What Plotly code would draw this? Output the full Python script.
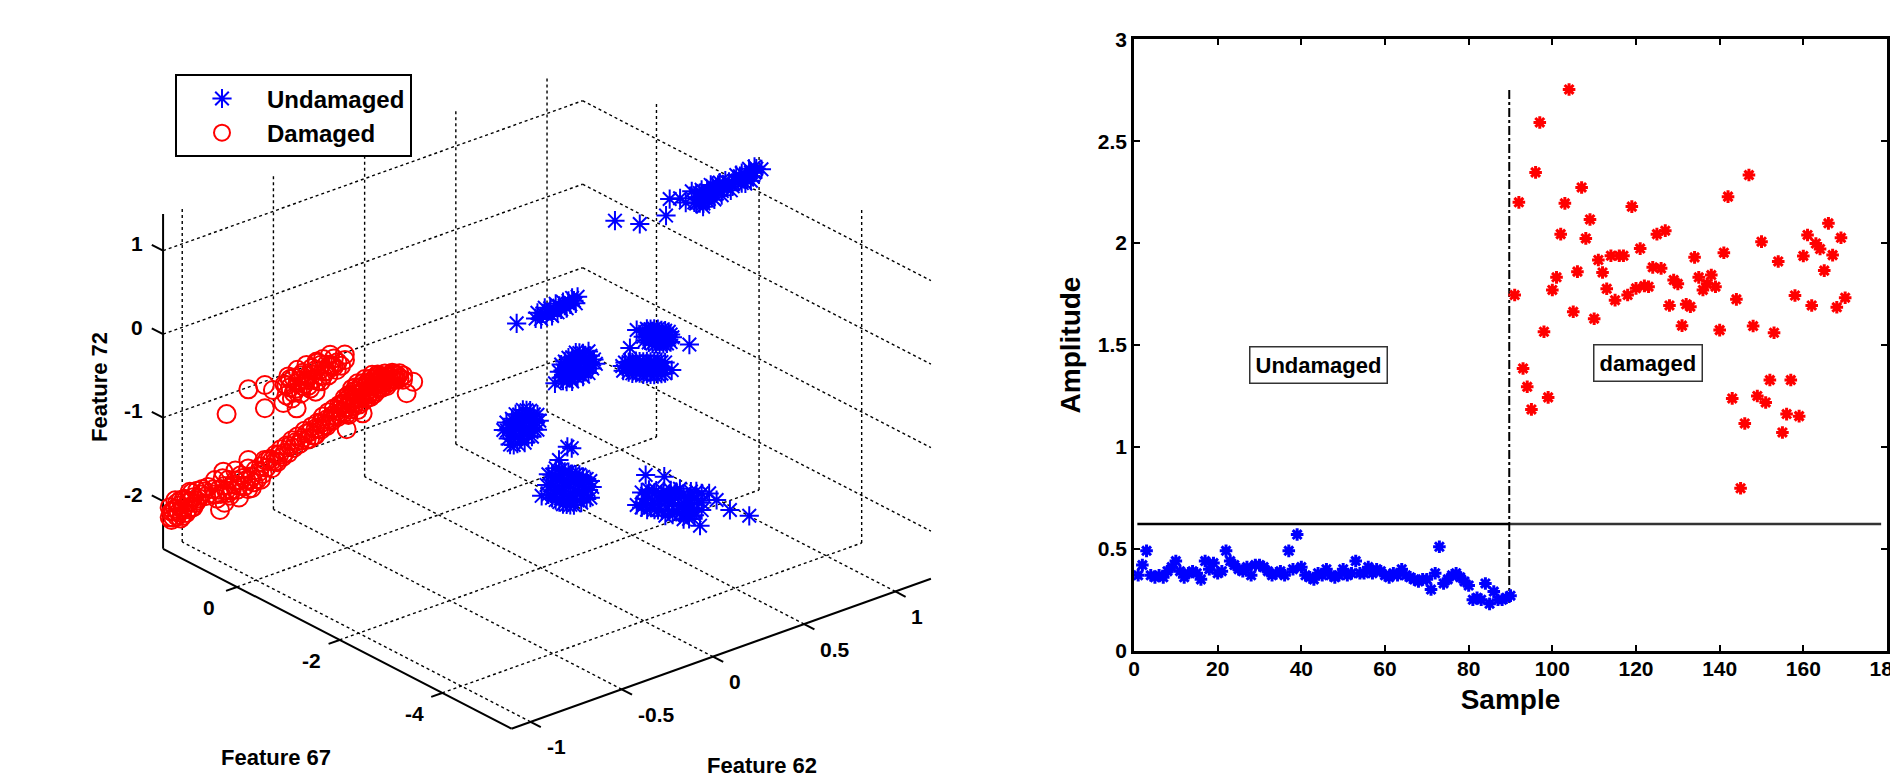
import plotly.graph_objects as go

W, H = 1890, 784
FONT = "Liberation Sans"

# ---------- right panel data ----------
sample_undamaged = list(range(1, 91))
amp_undamaged = [.37,.42,.49,.37,.36,.37,.36,.39,.41,.44,.39,.36,.38,.39,.38,.35,.44,.40,.43,.38,
                 .39,.49,.44,.42,.40,.39,.41,.37,.42,.42,.41,.39,.37,.38,.39,.37,.49,.40,.57,.41,
                 .37,.36,.35,.38,.37,.40,.37,.36,.37,.40,.37,.38,.44,.38,.38,.41,.38,.40,.39,.37,
                 .36,.38,.37,.40,.37,.36,.35,.34,.35,.35,.30,.38,.51,.33,.35,.37,.38,.36,.34,.32,
                 .25,.26,.25,.33,.23,.29,.25,.25,.26,.27]
sample_damaged = list(range(91, 171))
amp_damaged = [1.745,2.20,1.385,1.295,1.184,2.347,2.592,1.565,1.243,1.77,1.832,2.044,2.195,2.754,1.663,1.86,
               2.273,2.023,2.116,1.629,1.917,1.856,1.776,1.938,1.72,1.938,1.938,1.745,2.179,1.778,1.973,1.79,
               1.786,1.881,2.044,1.876,2.061,1.694,1.819,1.80,1.595,1.70,1.688,1.93,1.832,1.77,1.80,1.843,
               1.786,1.573,1.953,2.228,1.238,1.724,.797,1.115,2.334,1.593,1.25,2.007,1.218,1.328,1.56,1.91,
               1.071,1.161,1.328,1.743,1.151,1.937,2.04,1.694,1.998,1.971,1.865,2.097,1.941,1.685,2.026,1.732]
threshold = 0.622
divider_sample = 89.7

# ---------- left panel data: Feature 62, Feature 72 per cluster; Feature 67 per cluster ----------
strand_f62 = [.405,.541,.685,.705,.762,.793,.826,.888,1.208,.84,.85,.86,.87,.88,.89,.90,.91,.92,.93,.94,.95,.96,.97,.98,.99,1.00,1.02,1.03,1.05,1.06,1.08,1.09,1.10,1.12,1.13,1.15,1.16,1.17,1.18,
              .85,.87,.89,.91,.93,.95,.97,.99,1.01,1.04,1.07,1.10,1.12,1.15,1.17,1.14]
strand_f72 = [1.272,1.126,1.115,1.297,1.262,1.186,1.296,1.063,1.26,1.15,1.25,1.19,1.12,1.27,1.20,1.15,1.24,1.13,1.21,1.27,1.16,1.23,1.19,1.28,1.17,1.23,1.19,1.25,1.18,1.24,1.21,1.27,1.18,1.24,1.20,1.27,1.21,1.25,1.29,
              1.13,1.24,1.10,1.12,1.29,1.10,1.26,1.12,1.28,1.14,1.30,1.30,1.16,1.17,1.32,1.32]
a_f62 = [-.134,-.03,-.02,0,.01,.02,.03,.05,.06,.07,.08,.09,.10,.11,.12,.13,.14,.15,.16,.17,.18,.19,.20]
a_f72 = [.463,.44,.50,.41,.47,.53,.43,.50,.40,.46,.53,.42,.49,.44,.52,.47,.43,.51,.46,.53,.49,.45,.52]
b_f62 = [.10,.11,.11,.12,.12,.13,.13,.14,.14,.15,.15,.16,.16,.17,.17,.17,.18,.18,.19,.19,.20,.20,.21,.21,.22,.22,.23,.23,.24,.24,.25,.25,.26,.26,.27,.27,.28,.29,.30,.076]
b_f72 = [-.30,-.38,-.22,-.30,-.42,-.20,-.36,-.27,-.45,-.17,-.34,-.25,-.42,-.47,-.18,-.32,-.26,-.40,-.14,-.34,-.22,-.45,-.30,-.16,-.38,-.24,-.46,-.18,-.32,-.41,-.24,-.37,-.18,-.44,-.32,-.24,-.40,-.30,-.36,-.419]
c1_f62 = [.56,.57,.57,.58,.58,.59,.59,.60,.60,.61,.61,.62,.62,.63,.63,.64,.64,.65,.65,.66,.66,.67,.67,.68,.68,.69,.69,.70,.70,.71,.71,.72,.813,.524]
c1_f72 = [-.24,-.19,-.29,-.25,-.16,-.33,-.22,-.28,-.18,-.36,-.24,-.30,-.19,-.38,-.26,-.32,-.21,-.40,-.28,-.35,-.24,-.41,-.30,-.37,-.26,-.42,-.32,-.38,-.29,-.42,-.33,-.37,-.53,-.13]
c2_f62 = [.445,.45,.46,.47,.48,.48,.49,.50,.50,.51,.52,.52,.53,.54,.54,.55,.56,.56,.57,.58,.58,.59,.60,.60,.61,.62,.62,.63,.64,.64,.65,.66,.66,.67,.68,.68,.487,.716]
c2_f72 = [-.50,-.56,-.47,-.54,-.60,-.48,-.54,-.63,-.50,-.56,-.64,-.50,-.58,-.66,-.52,-.60,-.69,-.54,-.62,-.70,-.55,-.62,-.72,-.57,-.66,-.74,-.58,-.66,-.75,-.60,-.68,-.76,-.62,-.70,-.77,-.64,-.317,-.76]
d_f62 = [-.187,-.19,-.18,-.17,-.17,-.16,-.16,-.15,-.15,-.14,-.14,-.13,-.13,-.12,-.12,-.11,-.11,-.10,-.10,-.09,-.09,-.08,-.08,-.07,-.07,-.06,-.06,-.05,-.05,-.04,-.04,-.03,-.02,-.02,-.01,-.207]
d_f72 = [-.78,-.68,-.88,-.76,-.96,-.66,-.84,-.98,-.74,-.62,-.88,-.72,-.98,-.82,-.64,-.94,-.74,-.60,-.86,-1.0,-.72,-.82,-.62,-.94,-.74,-.88,-.64,-.78,-.96,-.70,-.88,-.80,-.72,-.90,-.80,-.757]
e_f62 = [.03,.04,.04,.05,.06,.06,.07,.08,.08,.08,.09,.10,.10,.11,.11,.12,.12,.13,.13,.14,.14,.15,.15,.16,.16,.17,.17,.18,.18,.19,.19,.20,.20,.21,.21,.22,.22,.23,.23,.24,.25,.25,.26,.27,.27,.28,.144,.168,.098,.003]
e_f72 = [-1.60,-1.72,-1.48,-1.62,-1.50,-1.78,-1.64,-1.44,-1.54,-1.82,-1.70,-1.58,-1.86,-1.48,-1.74,-1.62,-1.90,-1.52,-1.78,-1.66,-1.92,-1.54,-1.82,-1.70,-1.94,-1.58,-1.84,-1.68,-1.96,-1.60,-1.80,-1.92,-1.70,-1.62,-1.84,-1.96,-1.74,-1.66,-1.88,-1.78,-1.94,-1.70,-1.84,-1.74,-1.94,-1.82,-1.233,-1.267,-1.354,-1.709]
f_f62 = [.27,.27,.29,.30,.31,.33,.34,.35,.37,.38,.39,.41,.42,.43,.44,.45,.46,.47,.48,.49,.50,.51,.52,.53,.54,.55,.56,.243,.86,.754,.59,.292,.394,.681,.599,.599,.64,.53,
         .28,.30,.32,.34,.36,.38,.40,.40,.42,.44,.46,.48,.50,.52,.54,.56,.58,.60,.57,.50]
f_f72 = [-1.56,-1.74,-1.65,-1.79,-1.56,-1.70,-1.82,-1.60,-1.74,-1.86,-1.64,-1.76,-1.90,-1.66,-1.82,-1.72,-1.94,-1.78,-1.68,-1.88,-1.76,-1.98,-1.82,-1.90,-1.76,-2.00,-1.86,-1.689,-2.30,-2.148,-2.208,-1.368,-1.468,-1.971,-1.828,-2.028,-1.86,-2.08,
         -1.70,-1.60,-1.78,-1.62,-1.84,-1.68,-1.94,-1.72,-1.70,-1.96,-1.70,-1.98,-1.90,-2.02,-1.96,-2.06,-1.90,-1.94,-1.78,-2.06]
upper_clusters_f67 = -2.0   # strand, a, b, c1, c2, d, e
lower_cluster_f67 = -3.0    # f

red_main_f62 = [-1.08,-1.08,-1.07,-1.06,-1.05,-1.04,-1.03,-1.02,-1.01,-1.00,-.99,-.98,-.97,-.96,-.95,-.94,-.93,-.92,-.90,-.88,
                -.84,-.82,-.81,-.79,-.78,-.77,-.76,-.75,-.73,-.72,-.71,-.70,-.68,-.67,-.65,-.64,-.63,-.61,-.60,-.58,-.57,-.56,
                -.55,-.53,-.52,-.50,-.49,-.47,-.46,-.44,-.43,-.41,-.40,-.38,-.37,-.35,
                -.34,-.33,-.31,-.30,-.29,-.27,-.26,-.24,-.23,-.21,-.20,-.18,-.17,-.15,-.14,-.12,-.11,
                -.10,-.10,-.09,-.08,-.07,-.06,-.05,-.05,-.04,-.03,-.02,-.01,0,.01,.02,.03,.03,.04,.05,.06,.06,.07,.08,.09,.10,.11,.12,.13,.14,.15,.16,.18,
                .255,.219,.199,-.11,-.022,-.649,-.786,-.832,-.804]
red_main_f72 = [-2.20,-2.08,-2.24,-2.14,-2.02,-2.22,-2.10,-2.26,-2.16,-2.04,-2.22,-2.10,-1.98,-2.18,-2.06,-2.14,-2.0,-2.10,-2.0,-2.10,
                -2.05,-2.18,-2.08,-1.96,-2.26,-2.12,-2.0,-2.20,-2.08,-1.92,-2.16,-2.26,-2.04,-2.15,-1.95,-2.10,-2.20,-2.0,-2.12,-1.98,-2.08,-1.92,
                -2.02,-1.93,-2.05,-1.90,-2.0,-1.86,-1.96,-1.84,-1.94,-1.80,-1.90,-1.78,-1.88,-1.82,
                -1.74,-1.86,-1.78,-1.72,-1.84,-1.70,-1.78,-1.65,-1.76,-1.62,-1.72,-1.60,-1.70,-1.58,-1.67,-1.52,-1.64,
                -1.74,-1.50,-1.60,-1.44,-1.66,-1.52,-1.40,-1.72,-1.58,-1.46,-1.64,-1.38,-1.54,-1.44,-1.62,-1.36,-1.50,-1.42,-1.58,-1.38,-1.48,-1.54,-1.42,-1.50,-1.40,-1.56,-1.45,-1.52,-1.42,-1.50,-1.46,-1.52,
                -1.619,-1.729,-1.55,-1.903,-1.781,-1.85,-1.883,-1.947,-2.328]
red_core_f62 = [-.14,-.13,-.13,-.12,-.11,-.11,-.09,-.09,-.08,-.07,-.07,-.06,-.06,-.05,-.04,-.04,-.03,-.03,-.02,-.02,-.01,-.01,0,0,.01,.01,.02,.02,.03,.04,.04,.05,.05,.06,.07,.07,.08,.08,.09,.10,.10,.11,.12,.13,.14,.15,.16,.17,.18,.20,
                -.55,-.52,-.50,-.48,-.45,-.42,-.39,-.36,-.33,-.31,-.28,-.28,-.25,-.25,-.22,-.22,-.19,-.19,-.16,-.16,
                -1.07,-1.06,-1.05,-1.04,-1.03,-1.02,-1.01,-1.0,-.99,-.98,-.97,-.96,-.95,-.93,-.91,-.89,-.87,-.83,-.80,-.78,-.76,-.74,-.72,-.70,-.69,-.66,-.65,-.63,-.62,-.59,-.58]
red_core_f72 = [-1.58,-1.70,-1.58,-1.64,-1.55,-1.72,-1.52,-1.68,-1.58,-1.48,-1.56,-1.62,-1.44,-1.54,-1.46,-1.66,-1.54,-1.60,-1.42,-1.52,-1.58,-1.48,-1.44,-1.62,-1.52,-1.58,-1.46,-1.40,-1.56,-1.50,-1.60,-1.46,-1.40,-1.54,-1.46,-1.40,-1.50,-1.56,-1.44,-1.48,-1.54,-1.44,-1.52,-1.46,-1.50,-1.44,-1.52,-1.48,-1.46,-1.50,
                -1.94,-1.96,-1.98,-1.92,-1.92,-1.86,-1.84,-1.84,-1.78,-1.86,-1.76,-1.84,-1.72,-1.80,-1.70,-1.78,-1.68,-1.74,-1.64,-1.72,
                -2.14,-2.22,-2.12,-2.06,-2.18,-2.04,-2.24,-2.14,-2.06,-2.18,-2.10,-2.0,-2.18,-2.12,-2.06,-2.04,-2.0,-2.12,-2.14,-2.06,-2.16,-2.14,-2.04,-2.12,-2.0,-2.08,-2.2,-2.06,-2.14,-2.04,-2.14]
red_upper_f62 = [-.45,-.44,-.43,-.42,-.41,-.40,-.39,-.38,-.37,-.36,-.35,-.34,-.33,-.32,-.31,-.30,-.29,-.28,-.27,-.26,-.25,-.24,-.23,-.22,-.21,-.20,-.19,-.18,-.16,-.14,-.12,
                 -.768,-.649,-.558,-.558,-.119,-.164,-.274,-.384,-.457,-.514,
                 -.44,-.42,-.40,-.38,-.36,-.35,-.33,-.32,-.30,-.28,-.27,-.25,-.24,-.22,-.20,-.18]
red_upper_f72 = [-1.10,-1.24,-1.02,-1.16,-1.30,-1.06,-1.20,-.98,-1.12,-1.28,-1.04,-1.18,-.96,-1.10,-1.26,-1.02,-1.16,-1.32,-.98,-1.08,-1.22,-.96,-1.12,-1.04,-1.18,-.94,-1.08,-1.00,-1.06,-1.12,-1.00,
                 -1.207,-1.004,-1.302,-1.023,-1.066,-1.151,-.963,-1.438,-1.317,-1.117,
                 -1.12,-1.06,-1.24,-1.14,-1.06,-1.20,-1.14,-1.22,-1.10,-1.06,-1.20,-1.02,-1.16,-1.12,-1.06,-1.10]
red_f67 = 1.4

# axis limits and ticks of the 3-D box
f62_lim = (-1.105, 1.195)
f67_lim = (-5.35, 1.44)
f72_lim = (-2.57, 1.44)
f62_ticks = [-1, -0.5, 0, 0.5, 1]
f67_ticks = [0, -2, -4]
f72_ticks = [1, 0, -1, -2]

# view of the 3-D box (azimuth/elevation expressed as an affine map onto a flat axis pair)
def view(f62, f67, f72):
    return (438.5 + 182.4 * f62 - 51.3 * f67,
            300.3 - 65.2 * f62 - 26.5 * f67 - 83.5 * f72)

fig = go.Figure()

def seg(xs, ys, p, q):
    a, b = view(*p), view(*q)
    xs += [a[0], b[0], None]
    ys += [a[1], b[1], None]

gx, gy = [], []
f62a, f62b = f62_lim
f67a, f67b = f67_lim
f72a, f72b = f72_lim
for v in f72_ticks:
    seg(gx, gy, (f62a, f67b, v), (f62b, f67b, v))
    seg(gx, gy, (f62b, f67b, v), (f62b, f67a, v))
for v in f62_ticks:
    seg(gx, gy, (v, f67b, f72a), (v, f67b, f72b))
    seg(gx, gy, (v, f67a, f72a), (v, f67b, f72a))
for v in f67_ticks:
    seg(gx, gy, (f62b, v, f72a), (f62b, v, f72b))
    seg(gx, gy, (f62a, v, f72a), (f62b, v, f72a))
fig.add_trace(go.Scatter(x=gx, y=gy, mode="lines", showlegend=False, hoverinfo="skip",
                         line=dict(color="black", width=1.4, dash="3px,3px")))

ax, ay = [], []
seg(ax, ay, (f62a, f67b, f72a), (f62a, f67b, f72b))
seg(ax, ay, (f62a, f67b, f72a), (f62a, f67a, f72a))
seg(ax, ay, (f62a, f67a, f72a), (f62b, f67a, f72a))
for v in f72_ticks:
    seg(ax, ay, (f62a, f67b, v), (f62a, f67b + .22, v))
for v in f62_ticks:
    seg(ax, ay, (v, f67a, f72a), (v, f67a - .2, f72a))
for v in f67_ticks:
    seg(ax, ay, (f62a, v, f72a), (f62a - .06, v, f72a))
fig.add_trace(go.Scatter(x=ax, y=ay, mode="lines", showlegend=False, hoverinfo="skip",
                         line=dict(color="black", width=2)))

# blue clusters
bx, by = [], []
for a62, a72, a67 in [(strand_f62, strand_f72, upper_clusters_f67), (a_f62, a_f72, upper_clusters_f67),
                      (b_f62, b_f72, upper_clusters_f67), (c1_f62, c1_f72, upper_clusters_f67),
                      (c2_f62, c2_f72, upper_clusters_f67), (d_f62, d_f72, upper_clusters_f67),
                      (e_f62, e_f72, upper_clusters_f67), (f_f62, f_f72, lower_cluster_f67)]:
    for p, z in zip(a62, a72):
        u, v = view(p, a67, z)
        bx.append(u); by.append(v)
fig.add_trace(go.Scatter(x=bx, y=by, mode="markers", name="Undamaged", cliponaxis=False,
                         marker=dict(symbol="asterisk-open", size=16, color="#0000ff",
                                     line=dict(color="#0000ff", width=2))))
rx, ry = [], []
for p, z in zip(red_main_f62 + red_core_f62 + red_upper_f62, red_main_f72 + red_core_f72 + red_upper_f72):
    u, v = view(p, red_f67, z)
    rx.append(u); ry.append(v)
fig.add_trace(go.Scatter(x=rx, y=ry, mode="markers", name="Damaged", cliponaxis=False,
                         marker=dict(symbol="circle-open", size=18, color="#ff0000",
                                     line=dict(color="#ff0000", width=2))))

# right panel
fig.add_trace(go.Scatter(x=[0.8, 89.7], y=[threshold, threshold], xaxis="x2", yaxis="y2", mode="lines",
                         showlegend=False, line=dict(color="black", width=2.6)))
fig.add_trace(go.Scatter(x=[89.7, 178.6], y=[threshold, threshold], xaxis="x2", yaxis="y2", mode="lines",
                         showlegend=False, line=dict(color="#333333", width=2.5)))
fig.add_trace(go.Scatter(x=[divider_sample, divider_sample], y=[0.234, 2.76], xaxis="x2", yaxis="y2", mode="lines",
                         showlegend=False, line=dict(color="black", width=2, dash="dashdot")))
star = dict(symbol="asterisk-open", size=10.5)
fig.add_trace(go.Scatter(x=sample_undamaged, y=amp_undamaged, xaxis="x2", yaxis="y2", mode="markers",
                         showlegend=False, cliponaxis=False,
                         marker=dict(color="#0000ff", line=dict(color="#0000ff", width=3), **star)))
fig.add_trace(go.Scatter(x=sample_damaged, y=amp_damaged, xaxis="x2", yaxis="y2", mode="markers",
                         showlegend=False, cliponaxis=False,
                         marker=dict(color="#ff0000", line=dict(color="#ff0000", width=3), **star)))

bold = dict(family=FONT, color="black", weight=700)
anns = []
def label(x, y, text, size, xanchor="center", dx=0, dy=0, angle=0):
    anns.append(dict(x=x, y=y, xref="x", yref="y", text=text, showarrow=False, xanchor=xanchor, yanchor="middle",
                     xshift=dx, yshift=dy, textangle=angle, font=dict(size=size, **bold)))
for v in f72_ticks:
    u, w = view(f62a, f67b, v)
    label(u, w, str(v), 21, "right", -18, 7)
for v in f67_ticks:
    u, w = view(f62a, v, f72a)
    label(u, w, str(v), 21, "center", -28, -21)
for v in f62_ticks:
    u, w = view(v, f67a, f72a)
    label(u, w, str(v), 21, "left", 14, -25)
label(276, 757, "Feature 67", 22)
label(762, 765, "Feature 62", 22)
label(99, 387, "Feature 72", 22, angle=-90)

for xv, yv, t in [(44.1, 1.402, "Undamaged"), (122.9, 1.41, "damaged")]:
    anns.append(dict(x=xv, y=yv, xref="x2", yref="y2", text=t, showarrow=False,
                     bgcolor="white", bordercolor="#333333", borderwidth=1.5, borderpad=5,
                     font=dict(size=22, **bold)))

right_axis = dict(showline=True, linecolor="black", linewidth=2.5, mirror="ticks", ticks="inside", ticklen=6,
                  tickwidth=2, tickcolor="black", showgrid=False, zeroline=False,
                  tickfont=dict(size=21, **bold))
fig.update_layout(
    width=W, height=H, margin=dict(l=0, r=0, t=0, b=0, autoexpand=False), plot_bgcolor="white", paper_bgcolor="white",
    font=dict(family=FONT, color="black"),
    xaxis=dict(domain=[0, 1000 / W], range=[0, 1000], visible=False),
    yaxis=dict(domain=[0, 1], range=[H, 0], visible=False),
    xaxis2=dict(domain=[1134 / W, 1887 / W], range=[0, 180], dtick=20, tick0=0, anchor="y2", ticklabeloverflow="allow",
                ticklabelstandoff=-3,
                title=dict(text="Sample", font=dict(size=28, **bold), standoff=11), **right_axis),
    yaxis2=dict(domain=[1 - 650.7 / H, 1 - 39.3 / H], range=[0, 3], dtick=.5, tick0=0, anchor="x2", ticklabeloverflow="allow",
                title=dict(text="Amplitude", font=dict(size=28, **bold), standoff=10), **right_axis),
    legend=dict(x=175 / W, y=1 - 74.4 / H, xanchor="left", yanchor="top", bgcolor="white",
                bordercolor="black", borderwidth=2, font=dict(size=24, **bold), itemwidth=80, itemsizing="trace",
                tracegroupgap=0, entrywidth=149, entrywidthmode="pixels"),
    annotations=anns, showlegend=True,
)
fig.write_html("out.html", config=dict(displayModeBar=False),
               post_script="document.body.style.margin='0';document.body.style.overflow='hidden';")
